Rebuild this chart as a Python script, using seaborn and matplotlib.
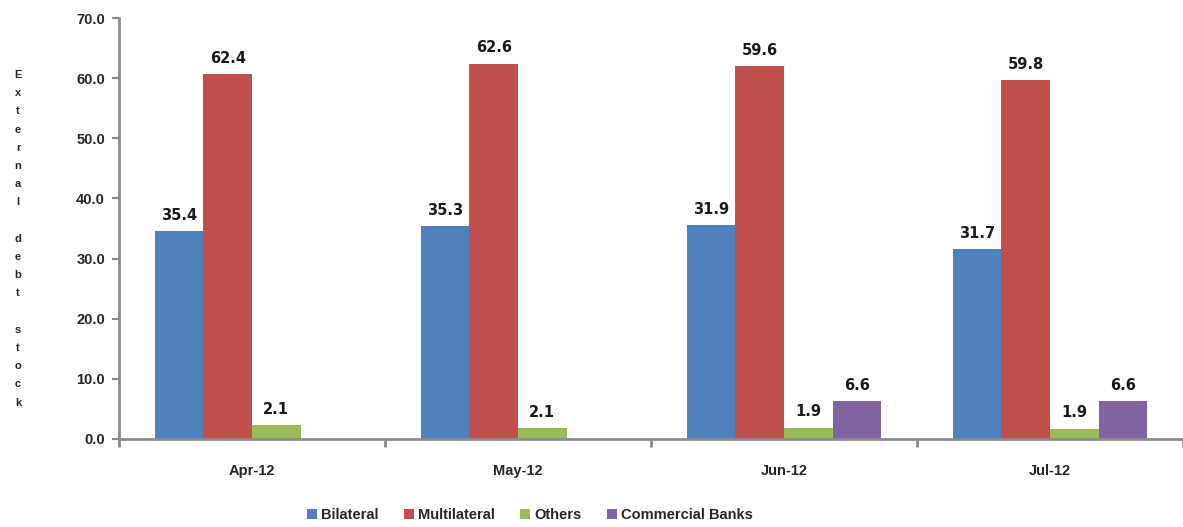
import seaborn as sns
import pandas as pd
import matplotlib.pyplot as plt

# Data (bar heights as drawn, and the printed labels)
months = ['Apr-12', 'May-12', 'Jun-12', 'Jul-12']
series = ['Bilateral', 'Multilateral', 'Others', 'Commercial Banks']
bilateral = [34.6, 35.4, 35.6, 31.6]
multilateral = [60.7, 62.4, 62.0, 59.7]
others = [2.3, 1.8, 1.9, 1.7]
commercial = [0.0, 0.0, 6.3, 6.3]
bilateral_lbl = ['35.4', '35.3', '31.9', '31.7']
multilateral_lbl = ['62.4', '62.6', '59.6', '59.8']
others_lbl = ['2.1', '2.1', '1.9', '1.9']
commercial_lbl = ['', '', '6.6', '6.6']
colors = ['#4F81BD', '#C0504D', '#9BBB59', '#8064A2']

df = pd.DataFrame({
    'month': months * 4,
    'series': [s for s in series for _ in months],
    'value': bilateral + multilateral + others + commercial,
})
labels = [bilateral_lbl, multilateral_lbl, others_lbl, commercial_lbl]

sns.set_style('white')
fig = plt.figure(figsize=(11.83, 5.27), dpi=100)
ax = fig.add_axes([119 / 1183, 88 / 527, 1064 / 1183, 421 / 527])

sns.barplot(data=df, x='month', y='value', hue='series', hue_order=series,
            palette=colors, saturation=1, width=0.73, linewidth=0,
            errorbar=None, ax=ax)

for cont, lbl in zip(ax.containers, labels):
    ax.bar_label(cont, labels=lbl, padding=6, fontsize=10.5,
                 fontweight='bold', family='DejaVu Sans', color='#1a1a1a')

ax.set_xlim(-0.5, 3.5)
ax.set_ylim(0, 70)
ax.set_yticks(range(0, 71, 10))
ax.set_yticklabels([f'{v:.1f}' for v in range(0, 71, 10)])
ax.set_xticks([-0.5, 0.5, 1.5, 2.5, 3.5], minor=True)
ax.tick_params(axis='x', which='major', bottom=True, length=0, pad=18)
ax.tick_params(axis='x', which='minor', bottom=True, length=6, width=2,
               color='#8c8c8c', direction='out')
ax.tick_params(axis='y', left=True, length=5, width=1.5, color='#8c8c8c',
               direction='out', pad=5)
for t in ax.get_xticklabels() + ax.get_yticklabels():
    t.set_fontfamily('Liberation Sans')
    t.set_fontweight('bold')
    t.set_fontsize(10.5)
ax.set_xlabel('')
ax.set_ylabel('')
for side in ['top', 'right']:
    ax.spines[side].set_visible(False)
for side in ['left', 'bottom']:
    ax.spines[side].set_color('#8c8c8c')
    ax.spines[side].set_linewidth(2)

# vertical stacked y label
ylab = 'External debt stock'
y0 = 1 - 75 / 527
for i, ch in enumerate(ylab):
    fig.text(18 / 1183, y0 - i * 18.2 / 527, ch, ha='center', va='center',
             fontsize=8, fontweight='bold', family='Liberation Sans')

handles, _ = ax.get_legend_handles_labels()
ax.legend(handles, series, loc='center', bbox_to_anchor=(530 / 1183, 12 / 527),
          bbox_transform=fig.transFigure, ncol=4, frameon=False,
          handlelength=0.7, handleheight=0.7, handletextpad=0.3, columnspacing=1.7,
          prop={'family': 'Liberation Sans', 'weight': 'bold', 'size': 10.5})

fig.savefig('out.png', dpi=100)
